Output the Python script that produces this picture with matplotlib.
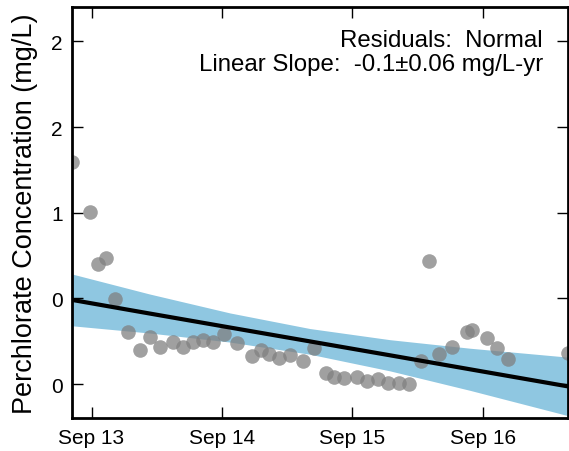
import matplotlib
matplotlib.use('Agg')
import matplotlib.pyplot as plt
import matplotlib.dates as mdates
import numpy as np
import pandas as pd

plt.rcParams['font.family'] = ['Liberation Sans', 'DejaVu Sans']

# sample dates and perchlorate concentrations (mg/L)
dates = pd.to_datetime([
    '2013-07-09', '2013-08-27', '2013-09-19', '2013-10-11', '2013-11-05',
    '2013-12-12', '2014-01-14', '2014-02-11', '2014-03-11', '2014-04-17',
    '2014-05-15', '2014-06-12', '2014-07-10', '2014-08-07', '2014-09-07',
    '2014-10-13', '2014-11-24', '2014-12-20', '2015-01-11', '2015-02-08',
    '2015-03-11', '2015-04-16', '2015-05-17', '2015-06-20', '2015-07-12',
    '2015-08-09', '2015-09-15', '2015-10-13', '2015-11-13', '2015-12-11',
    '2016-01-11', '2016-02-08', '2016-03-13', '2016-04-04', '2016-05-03',
    '2016-06-08', '2016-07-20', '2016-08-03', '2016-09-14', '2016-10-12',
    '2016-11-12', '2017-04-29',
])
conc = [
    1.296, 1.003, 0.698, 0.734, 0.499,
    0.306, 0.201, 0.277, 0.218, 0.248,
    0.218, 0.248, 0.259, 0.248, 0.294,
    0.242, 0.166, 0.201, 0.177, 0.154,
    0.172, 0.136, 0.213, 0.067, 0.043,
    0.037, 0.043, 0.019, 0.031, 0.008,
    0.008, 0.002, 0.136, 0.716, 0.177,
    0.218, 0.306, 0.318, 0.271, 0.213,
    0.148, 0.183,
]

# fitted trend and its confidence band
fit_dates = pd.to_datetime(['2013-07-09', '2014-02-10', '2014-09-24', '2015-05-06',
                            '2015-12-16', '2016-07-28', '2017-04-29'])
fit_line = [0.491, 0.412, 0.330, 0.249, 0.168, 0.086, -0.014]
band_upper = [0.642, 0.526, 0.415, 0.324, 0.259, 0.209, 0.157]
band_lower = [0.340, 0.298, 0.245, 0.174, 0.077, -0.037, -0.185]

fig = plt.figure(figsize=(5.69, 4.52), dpi=100)
ax = fig.add_axes([0.127, 0.0723, 0.8718, 0.9097])

ax.fill_between(fit_dates, band_lower, band_upper, color='#8fc7e1', lw=0, zorder=1)
ax.scatter(dates, conc, s=110, color='#808080', alpha=0.75, lw=0, zorder=2, clip_on=True)
ax.plot(fit_dates, fit_line, color='black', lw=3, zorder=3)

ax.set_xlim(pd.Timestamp('2013-07-09'), pd.Timestamp('2017-04-29'))
ax.set_ylim(-0.2, 2.2)
ax.set_yticks([0, 0.5, 1.0, 1.5, 2.0])
ax.yaxis.set_major_formatter(matplotlib.ticker.FormatStrFormatter('%.0f'))
ax.xaxis.set_major_locator(mdates.MonthLocator(bymonth=9, bymonthday=1))
ax.xaxis.set_major_formatter(mdates.DateFormatter('%b %y'))

ax.tick_params(direction='in', top=True, right=True, length=8, width=1,
               labelsize=15, pad=7)
for s in ax.spines.values():
    s.set_linewidth(2)

ax.set_ylabel('Perchlorate Concentration (mg/L)', fontsize=19.5, labelpad=9)

ax.text(0.949, 0.948, 'Residuals:  Normal\nLinear Slope:  -0.1\u00b10.06 mg/L-yr',
        transform=ax.transAxes, ha='right', va='top', fontsize=17.3,
        multialignment='right', linespacing=1.12)

fig.savefig('out.png', dpi=100)
